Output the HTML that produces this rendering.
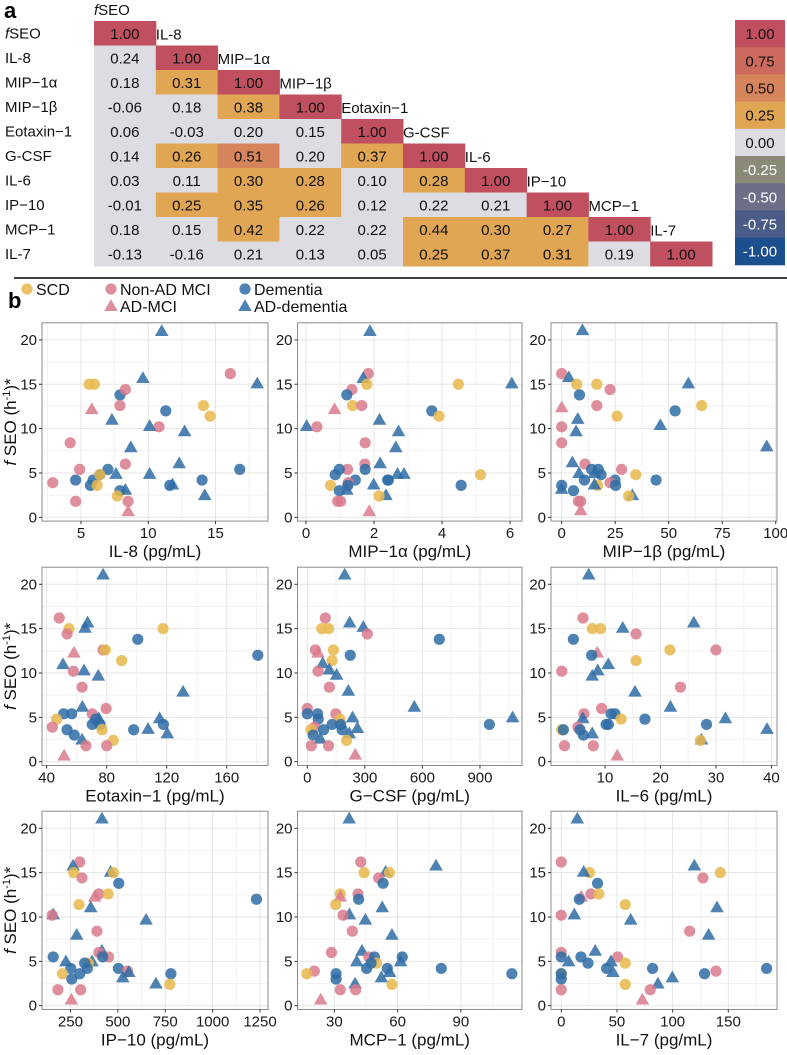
<!DOCTYPE html>
<html><head><meta charset="utf-8"><title>Correlation and scatter panels</title>
<style>
html,body{margin:0;padding:0;background:#fff;}
body{width:787px;height:1050px;overflow:hidden;font-family:"Liberation Sans",sans-serif;}
svg text{font-family:"Liberation Sans",sans-serif;}
</style></head>
<body>
<svg id="fig" width="787" height="1050" viewBox="0 0 787 1050" xmlns="http://www.w3.org/2000/svg"></svg>
<script>
// ---- Heatmap data ----
const hmLabels = ['fSEO','IL-8','MIP\u22121\u03b1','MIP\u22121\u03b2','Eotaxin\u22121','G-CSF','IL-6','IP\u221210','MCP\u22121','IL-7'];
const hmValues = [
 [1.00],
 [0.24,1.00],
 [0.18,0.31,1.00],
 [-0.06,0.18,0.38,1.00],
 [0.06,-0.03,0.20,0.15,1.00],
 [0.14,0.26,0.51,0.20,0.37,1.00],
 [0.03,0.11,0.30,0.28,0.10,0.28,1.00],
 [-0.01,0.25,0.35,0.26,0.12,0.22,0.21,1.00],
 [0.18,0.15,0.42,0.22,0.22,0.44,0.30,0.27,1.00],
 [-0.13,-0.16,0.21,0.13,0.05,0.25,0.37,0.31,0.19,1.00]
];
const legendValues = [1.00,0.75,0.50,0.25,0.00,-0.25,-0.50,-0.75,-1.00];
const legendColors = ['#C0505F','#CC6A5E','#D5845B','#E1A653','#DDDCE3','#8B8A79','#6D6F88','#4B5B88','#1B4F8E'];

// ---- Scatter data ----
const il8X = [11.0,16.1,5.6,6.0,9.6,18.1,7.9,8.3,7.9,5.8,14.1,14.6,11.3,7.3,10.8,10.1,12.7,4.2,8.7,12.3,8.3,4.9,7.0,16.8,4.6,5.9,6.4,6.4,7.6,10.1,14.0,2.9,5.7,6.2,11.6,11.8,7.9,8.3,14.2,7.7,4.6,8.5,8.5];
const il8Y = [21,16.2,15,15,15.7,15.1,13.8,14.4,12.6,12.2,12.6,11.4,12,11,10.2,10.3,9.7,8.4,7.9,6.1,6.0,5.4,5.4,5.4,4.2,4.2,4.8,4.8,4.9,4.9,4.2,3.9,3.6,3.6,3.6,3.7,3.0,3.1,2.5,2.4,1.8,1.8,0.7];
const il8G = 'TNSSTTDNNASSDTNTTNTTNNDDDDDSTTDNDSDTDTTSNNA'.split('');

const mipaX = [1.88,1.83,1.68,1.79,4.48,6.05,1.35,1.2,1.37,1.64,0.84,3.7,3.91,2.16,0.02,0.32,2.72,1.74,2.64,2.18,1.73,1.22,0.98,1.74,2.69,2.88,5.13,0.86,1.45,2.4,2.42,1.24,0.72,4.56,1.23,1.99,1.2,0.98,2.35,2.15,0.93,1.02,1.86];
const mipaY = [21,16.2,15.7,15,15,15.1,14.4,13.8,12.6,12.6,12.2,12,11.4,11,10.3,10.2,9.7,8.4,7.9,6.1,6.0,5.4,5.4,5.4,4.9,4.9,4.8,4.8,4.2,4.2,4.2,3.9,3.6,3.6,3.6,3.7,3.1,3.0,2.5,2.4,1.8,1.8,0.7];
const mipaG = 'TNTSSTNDSNADSTTNTNTTNNDDTTSDDDDNSDDTTDTSNNA'.split('');

const mipbX = [9.7,0,3.3,7,16.4,59.2,22.6,8.3,16.4,65.4,0,53,25.9,7.5,0,46.1,6.7,0,95.8,5,10.9,28,14,17.1,8.1,15.3,34.6,18.4,10.6,24.9,44.1,22.6,16.8,0,25.2,15.3,0,5.5,33,31.3,7.8,8.9,8.9];
const mipbY = [21.1,16.2,15.8,15,15,15.1,14.4,13.8,12.6,12.6,12.4,12,11.4,11.1,10.2,10.4,9.7,8.4,8,6.2,6,5.4,5.4,5.4,5,5,4.8,4.8,4.2,4.2,4.2,3.9,3.6,3.6,3.6,3.7,3.2,3.0,2.5,2.4,1.8,1.8,0.8];
const mipbG = 'TNTSSTNDNSADSTNTTNTTNNDDTTSDDDDNSDDTTDTSNNA'.split('');

const eotX = [77.6,48.4,67.3,54.9,65.6,117.6,53.6,100.7,77.6,79.1,58.2,180.7,90,50.9,64.9,57.8,74.4,63.6,130.9,63.8,79.6,70.4,51.3,56.7,74.7,115.3,46.7,72.7,70.4,75.6,117.8,43.8,76.9,53.6,98,107.6,120.4,58.4,63.6,84.4,66.2,80,51.6];
const eotY = [21.1,16.2,15.7,15,15.1,15,14.4,13.8,12.6,12.6,12.3,12,11.4,11,10.3,10.2,9.7,8.4,7.9,6.2,6,5.4,5.4,5.4,4.9,4.9,4.8,4.8,4.2,4.2,4.2,3.9,3.6,3.6,3.6,3.7,3.2,3.0,2.5,2.4,1.8,1.8,0.7];
const eotG = 'TNTSTSNDNSADSTTNTNTTNNDDTTSDDDDNSDDTTDTSNNA'.split('');

const gcsfX = [195,94,221,75,111,292,313,688,42,136,56,224,129,80,115,56,153,115,214,558,0,149,0,54,236,1070,170,57,129,174,949,38,19,85,182,261,219,31,68,205,21,111,250];
const gcsfY = [21.1,16.2,15.7,15,15,15.2,14.4,13.8,12.6,12.6,12.3,12,11.4,11.1,10.4,10.2,9.8,8.4,8,6.2,6,5.4,5.4,5.4,5,5,4.8,4.8,4.2,4.2,4.2,3.9,3.6,3.6,3.6,3.8,3.2,3.0,2.6,2.4,1.8,1.8,0.8];
const gcsfG = 'TNTSSTNDNSADSTTNTNTTNNDDTTSDDDDNSDDTTDTSNNA'.split('');

const il6X = [7.06,6.04,7.7,9.2,13.2,26.0,15.6,4.3,21.7,30,8.6,7.6,15.6,10.6,8.7,2.2,7.7,23.6,15.4,21.8,9.4,6.2,11.1,11.8,6,31.7,12.9,17.2,10.2,10.6,28.3,5.1,2.2,2.5,5.5,39.2,7.7,6.1,27.4,27.2,2.7,7.9,12.2];
const il6Y = [21.1,16.2,15,15,15.1,15.7,14.4,13.8,12.6,12.6,12.3,12,11.4,11,10.3,10.2,9.7,8.4,7.9,6.2,6,5.4,5.4,5.4,4.9,4.9,4.8,4.8,4.2,4.2,4.2,3.9,3.6,3.6,3.6,3.7,3.2,3.0,2.5,2.4,1.8,1.8,0.7];
const il6G = 'TNSSTTNDSNADSTTNTNTTNNDDTTSDDDDNSDDTTDTSNNA'.split('');

const row3Y = [21.1,16.2,15.8,15,15.1,15,14.4,13.8,12.6,12.6,12.3,12,11.4,11.1,10.3,10.2,9.7,8.4,8,6.2,6,5.5,5.5,5.5,5,5,4.8,4.8,4.2,4.2,4.2,3.9,3.6,3.6,3.6,3.8,3.2,3.0,2.5,2.4,1.8,1.8,0.7];
const row3G = 'TNTSTSNDNSADSTTNTNTTNNDDTTSDDDDNSDDTTDTSNNA'.split('');
const ip10X = [416,299,264,267,462,477,311,505,400,449,378,1231,295,357,159,154,649,390,283,416,400,451,159,420,226,364,344,325,252,339,503,551,208,299,780,558,526,257,701,774,184,304,255];
const mcp1X = [37,42.5,78.2,44.1,54.3,56.1,51,53.1,41.2,32.8,32.8,41.5,30.6,52.7,37.1,34.1,44.7,38.5,57.3,43.1,28.6,46.3,49,62.2,40.6,61.4,50,47.4,45.3,55.1,80.7,20.5,16.9,30.8,114.2,56.2,52.3,30.8,39.8,57.3,32.8,40.1,23.5];
const il7X = [14.4,0,119.5,25.4,20.1,142.8,127.2,32.6,26.6,33.8,18,16.2,57.5,139.8,11.7,0,62.3,115.3,132.3,30.5,0,50.6,0,17.7,6.6,44.6,57.5,24,40.7,82,184.4,138.9,0,0,128.7,46.4,99.7,0,86.8,57.5,0,79.9,72.8];

const yTicks = [0,5,10,15,20];
const groupLabels = ['SCD','Non-AD MCI','AD-MCI','Dementia','AD-dementia'];

const NS = 'http://www.w3.org/2000/svg';
const svg = document.getElementById('fig');
function mk(tag, parent){ const e = document.createElementNS(NS, tag); (parent||svg).appendChild(e); return e; }

// ---------- Panel a: heatmap ----------
const CX0 = 94, CW = 61.8, CY0 = 21, CH = 24.5;
const lblA = mk('text');


lblA.setAttribute('x', 4); lblA.setAttribute('y', 18);
lblA.setAttribute('font-size', '22'); lblA.setAttribute('font-weight', 'bold');
lblA.textContent = 'a';

function cellColor(v){
  if (v >= 0.875) return '#C0505F';
  if (v >= 0.5) return '#D5845B';
  if (v >= 0.25) return '#E1A653';
  return '#DDDCE3';
}
function addLabel(txt, x, y, name){
  const t = mk('text');
  
  
  t.setAttribute('x', x); t.setAttribute('y', y);
  t.setAttribute('font-size', '15'); t.setAttribute('fill', '#111');
  if (txt === 'fSEO') {
    const a = mk('tspan', t); a.setAttribute('font-style', 'italic'); a.textContent = 'f';
    const b = mk('tspan', t); b.textContent = 'SEO';
  } else t.textContent = txt;
  return t;
}
hmValues.forEach((row, r) => {
  addLabel(hmLabels[r], 5, CY0 + r*CH + CH/2 + 5, 'row-label-' + r);
  addLabel(hmLabels[r], CX0 + r*CW + 0, CY0 + (r-1)*CH + CH/2 + 6, 'column-label-' + r);
  row.forEach((v, c) => {
    const rc = mk('rect');
    
    
    rc.setAttribute('x', CX0 + c*CW); rc.setAttribute('y', CY0 + r*CH);
    rc.setAttribute('width', CW + 0.5); rc.setAttribute('height', CH + 0.5);
    rc.setAttribute('fill', cellColor(v));
    const t = mk('text');
    
    
    t.setAttribute('x', CX0 + c*CW + CW/2); t.setAttribute('y', CY0 + r*CH + CH/2 + 5.5);
    t.setAttribute('text-anchor', 'middle'); t.setAttribute('font-size', '15'); t.setAttribute('fill', '#111');
    t.textContent = v.toFixed(2);
  });
});
// color legend
const LH = 27.2;
legendValues.forEach((v, i) => {
  const rc = mk('rect');
  
  
  rc.setAttribute('x', 735); rc.setAttribute('y', 20 + i*LH);
  rc.setAttribute('width', 50); rc.setAttribute('height', LH + 0.5);
  rc.setAttribute('fill', legendColors[i]);
  const t = mk('text');
  
  
  t.setAttribute('x', 760); t.setAttribute('y', 20 + i*LH + LH/2 + 5.5);
  t.setAttribute('text-anchor', 'middle'); t.setAttribute('font-size', '15');
  t.setAttribute('fill', v < 0 ? '#fff' : '#111');
  t.textContent = v.toFixed(2);
});
const sep = mk('line');


sep.setAttribute('x1', 14); sep.setAttribute('x2', 787); sep.setAttribute('y1', 278); sep.setAttribute('y2', 278);
sep.setAttribute('stroke', '#000'); sep.setAttribute('stroke-width', '1.5');

// ---------- Panel b ----------
const lblB = mk('text');


lblB.setAttribute('x', 8); lblB.setAttribute('y', 308);
lblB.setAttribute('font-size', '22'); lblB.setAttribute('font-weight', 'bold');
lblB.textContent = 'b';

const COL = {S:'#E8B84B', N:'#D97A8C', A:'#D97A8C', D:'#2F6CA6', T:'#2F6CA6'};
function drawMark(g, cx, cy, grp, parent){
  let e;
  if (grp === 'A' || grp === 'T') {
    e = mk('polygon', parent);
    e.setAttribute('points', `${cx},${cy-6.8} ${cx+6.8},${cy+5} ${cx-6.8},${cy+5}`);
  } else {
    e = mk('circle', parent);
    e.setAttribute('cx', cx); e.setAttribute('cy', cy); e.setAttribute('r', 5.6);
  }
  e.setAttribute('fill', COL[grp]); e.setAttribute('fill-opacity', '0.85');
  return e;
}
// legend
const legItems = [['S',27,289,'SCD'],['N',111,289,'Non-AD MCI'],['A',111,306,'AD-MCI'],['D',245,289,'Dementia'],['T',245,306,'AD-dementia']];
legItems.forEach(it => {
  const g = mk('g');
  
  
  const m = drawMark(null, it[1], it[2], it[0], g);
  
  
  const t = mk('text', g);
  
  
  t.setAttribute('x', it[1] + 9); t.setAttribute('y', it[2] + 6);
  t.setAttribute('font-size', '16'); t.setAttribute('fill', '#111');
  t.textContent = it[3];
});

const ROWS = [517.3, 761.7, 1005.7];
const COLS = [[42,268],[297.5,522],[551,777]];
const PY = 8.87;
const panels = [
 {name:'il8', r:0,c:0, dom:[2.1,18.9], ticks:[5,10,15], minor:[2.5,7.5,12.5,17.5], xs:il8X, ys:il8Y, gs:il8G, title:'IL-8 (pg/mL)'},
 {name:'mip1a', r:0,c:1, dom:[-0.25,6.35], ticks:[0,2,4,6], minor:[1,3,5], xs:mipaX, ys:mipaY, gs:mipaG, title:'MIP\u22121\u03b1 (pg/mL)'},
 {name:'mip1b', r:0,c:2, dom:[-5,100.6], ticks:[0,25,50,75,100], minor:[12.5,37.5,62.5,87.5], xs:mipbX, ys:mipbY, gs:mipbG, title:'MIP\u22121\u03b2 (pg/mL)'},
 {name:'eotaxin', r:1,c:0, dom:[36.9,187.5], ticks:[40,80,120,160], minor:[60,100,140,180], xs:eotX, ys:eotY, gs:eotG, title:'Eotaxin\u22121 (pg/mL)'},
 {name:'gcsf', r:1,c:1, dom:[-51,1119], ticks:[0,300,600,900], minor:[150,450,750,1050], xs:gcsfX, ys:gcsfY, gs:gcsfG, title:'G\u2212CSF (pg/mL)'},
 {name:'il6', r:1,c:2, dom:[0.27,41], ticks:[10,20,30,40], minor:[5,15,25,35], xs:il6X, ys:il6Y, gs:il6G, title:'IL\u22126 (pg/mL)'},
 {name:'ip10', r:2,c:0, dom:[100,1292], ticks:[250,500,750,1000,1250], minor:[125,375,625,875,1125], xs:ip10X, ys:row3Y, gs:row3G, title:'IP\u221210 (pg/mL)'},
 {name:'mcp1', r:2,c:1, dom:[12.5,119], ticks:[30,60,90], minor:[15,45,75,105], xs:mcp1X, ys:row3Y, gs:row3G, title:'MCP\u22121 (pg/mL)'},
 {name:'il7', r:2,c:2, dom:[-9.2,193.7], ticks:[0,50,100,150], minor:[25,75,125,175], xs:il7X, ys:row3Y, gs:row3G, title:'IL\u22127 (pg/mL)'}
];

panels.forEach(p => {
  const [L, R] = COLS[p.c];
  const y0 = ROWS[p.r];
  const T = y0 - 194.5, B = y0 + 3.8;
  const xs = v => L + (v - p.dom[0]) / (p.dom[1] - p.dom[0]) * (R - L);
  const ys = v => y0 - v * PY;
  const g = mk('g');
  
  
  const bg = mk('rect', g);
  
  
  bg.setAttribute('x', L); bg.setAttribute('y', T); bg.setAttribute('width', R-L); bg.setAttribute('height', B-T);
  bg.setAttribute('fill', '#fff');
  // grid
  const gl = (x1,y1,x2,y2,c) => { const l = mk('line', g);  
    l.setAttribute('x1',x1); l.setAttribute('y1',y1); l.setAttribute('x2',x2); l.setAttribute('y2',y2); l.setAttribute('stroke',c); l.setAttribute('stroke-width','1'); };
  [2.5,7.5,12.5,17.5].forEach(v => gl(L, ys(v), R, ys(v), '#f2f2f2'));
  p.minor.forEach(v => { const x = xs(v); if (x > L && x < R) gl(x, T, x, B, '#f2f2f2'); });
  yTicks.forEach(v => gl(L, ys(v), R, ys(v), '#e5e5e5'));
  p.ticks.forEach(v => { const x = xs(v); if (x > L && x < R) gl(x, T, x, B, '#e5e5e5'); });
  // marks
  p.xs.forEach((xv, i) => {
    const m = drawMark(null, xs(xv), ys(p.ys[i]), p.gs[i], g);
    
    
  });
  const bd = mk('rect', g);
  
  
  bd.setAttribute('x', L); bd.setAttribute('y', T); bd.setAttribute('width', R-L); bd.setAttribute('height', B-T);
  bd.setAttribute('fill', 'none'); bd.setAttribute('stroke', '#8c8c8c'); bd.setAttribute('stroke-width', '1');
  // y ticks
  yTicks.forEach(v => {
    const tk = mk('line', g);
    
    
    tk.setAttribute('x1', L-3); tk.setAttribute('x2', L); tk.setAttribute('y1', ys(v)); tk.setAttribute('y2', ys(v));
    tk.setAttribute('stroke', '#333');
    const t = mk('text', g);
    
    
    t.setAttribute('x', L-5); t.setAttribute('y', ys(v) + 5);
    t.setAttribute('text-anchor', 'end'); t.setAttribute('font-size', '15'); t.setAttribute('fill', '#1a1a1a');
    t.textContent = v;
  });
  // x ticks
  p.ticks.forEach(v => {
    const x = xs(v);
    const tk = mk('line', g);
    
    
    tk.setAttribute('x1', x); tk.setAttribute('x2', x); tk.setAttribute('y1', B); tk.setAttribute('y2', B+3);
    tk.setAttribute('stroke', '#333');
    const t = mk('text', g);
    
    
    t.setAttribute('x', x); t.setAttribute('y', B + 17);
    t.setAttribute('text-anchor', 'middle'); t.setAttribute('font-size', '15'); t.setAttribute('fill', '#1a1a1a');
    t.textContent = v;
  });
  const xt = mk('text', g);
  
  
  xt.setAttribute('x', (L+R)/2); xt.setAttribute('y', B + 36);
  xt.setAttribute('text-anchor', 'middle'); xt.setAttribute('font-size', '17'); xt.setAttribute('fill', '#111');
  xt.textContent = p.title;
  if (p.c === 0) {
    const cy = (T + B) / 2;
    const yt = mk('text', g);
    
    
    yt.setAttribute('transform', `translate(16,${cy}) rotate(-90)`);
    yt.setAttribute('text-anchor', 'middle'); yt.setAttribute('font-size', '17'); yt.setAttribute('fill', '#111');
    const a = mk('tspan', yt); a.setAttribute('font-style', 'italic'); a.textContent = 'f ';
    const b = mk('tspan', yt); b.textContent = 'SEO (h';
    const c = mk('tspan', yt); c.setAttribute('font-size', '11'); c.setAttribute('dy', '-6'); c.textContent = '-1';
    const d = mk('tspan', yt); d.setAttribute('dy', '6'); d.textContent = ')*';
  }
});
</script>
</body></html>
